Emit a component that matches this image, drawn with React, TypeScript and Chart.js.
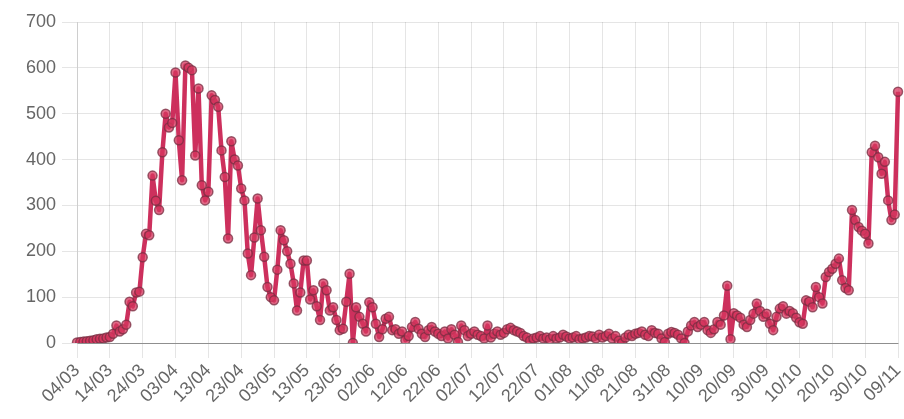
import React, { useEffect, useRef } from "react";
import { Chart, registerables } from "chart.js";

Chart.register(...registerables);

// Daily categories: 04/03 (2020) through 09/11
const START = { year: 2020, month: 3, day: 4 };
const DAY_COUNT = 251;
const dates: string[] = [];
for (let i = 0; i < DAY_COUNT; i++) {
  const d = new Date(Date.UTC(START.year, START.month - 1, START.day + i));
  const dd = String(d.getUTCDate()).padStart(2, "0");
  const mm = String(d.getUTCMonth() + 1).padStart(2, "0");
  dates.push(`${dd}/${mm}`);
}

// Daily values
const values: number[] = [
  1, 2, 3, 4, 5, 6, 8, 9, 10, 12,
  13, 20, 38, 25, 30, 40, 90, 80, 110, 112,
  187, 238, 235, 365, 310, 290, 416, 500, 470, 480,
  590, 442, 355, 605, 600, 595, 409, 555, 344, 311,
  330, 540, 530, 515, 420, 362, 228, 440, 400, 387,
  337, 311, 195, 148, 230, 315, 246, 188, 122, 100,
  93, 160, 246, 224, 200, 173, 130, 71, 110, 180,
  180, 95, 115, 80, 50, 130, 115, 71, 78, 50,
  28, 31, 90, 151, 0, 78, 57, 42, 25, 89,
  78, 42, 13, 30, 53, 57, 28, 30, 20, 25,
  6, 15, 35, 46, 31, 20, 13, 28, 35, 25,
  20, 15, 25, 10, 30, 18, 2, 38, 28, 15,
  20, 25, 18, 15, 10, 38, 12, 20, 25, 18,
  22, 30, 33, 28, 25, 22, 15, 12, 5, 10,
  12, 15, 10, 12, 8, 15, 10, 12, 18, 14,
  10, 12, 15, 8, 10, 12, 15, 14, 10, 18,
  12, 15, 20, 10, 15, 5, 0, 12, 18, 15,
  20, 22, 25, 18, 15, 28, 22, 20, 10, 2,
  20, 24, 22, 18, 10, 0, 25, 38, 46, 35,
  40, 46, 28, 22, 30, 46, 40, 60, 125, 8,
  65, 60, 55, 40, 35, 50, 64, 86, 70, 57,
  64, 42, 28, 57, 75, 80, 64, 70, 65, 55,
  45, 42, 93, 90, 78, 122, 100, 86, 144, 155,
  162, 173, 184, 137, 120, 115, 290, 268, 253, 245,
  238, 217, 416, 430, 405, 369, 395, 311, 268, 280,
  548,
];

const LABEL_EVERY = 10;
const Y_MIN = 0;
const Y_MAX = 700;
const Y_STEP = 100;

const FONT = { family: "Arial, 'Liberation Sans', Helvetica, sans-serif", size: 18 };
const TEXT = "#666";
const GRID = "rgba(0,0,0,0.1)";
const ZERO = "rgba(0,0,0,0.25)";

export default function App() {
  const ref = useRef<HTMLCanvasElement | null>(null);

  useEffect(() => {
    if (!ref.current) return;
    const chart = new Chart(ref.current, {
      type: "line",
      data: {
        labels: dates,
        datasets: [
          {
            data: values,
            borderColor: "rgba(200,25,75,0.9)",
            borderWidth: 4.5,
            borderJoinStyle: "round",
            pointRadius: 4.5,
            pointBorderWidth: 1.5,
            pointBackgroundColor: "rgba(215,55,95,0.75)",
            pointBorderColor: "rgba(120,45,65,0.75)",
            tension: 0,
            fill: false,
          },
        ],
      },
      options: {
        animation: false,
        responsive: true,
        maintainAspectRatio: false,
        layout: { padding: { top: 22, right: 2, left: 0, bottom: 0 } },
        plugins: { legend: { display: false }, tooltip: { enabled: false } },
        scales: {
          x: {
            type: "category",
            offset: false,
            border: { color: ZERO },
            grid: {
              color: (c: any) => (c.index % LABEL_EVERY === 0 ? GRID : "rgba(0,0,0,0)"),
              tickColor: (c: any) => (c.index % LABEL_EVERY === 0 ? GRID : "rgba(0,0,0,0)"),
              tickLength: 15,
            },
            ticks: {
              autoSkip: false,
              minRotation: 45,
              maxRotation: 45,
              padding: 2,
              color: TEXT,
              font: FONT,
              callback: (_v: any, i: number) => (i % LABEL_EVERY === 0 ? dates[i] : ""),
            },
            afterFit: (s: any) => {
              s.paddingLeft = 0;
              s.paddingRight = 0;
              s.height = 76;
            },
          },
          y: {
            min: Y_MIN,
            max: Y_MAX,
            border: { color: GRID },
            grid: {
              color: (c: any) => (c.tick && c.tick.value === 0 ? ZERO : GRID),
              tickColor: GRID,
              tickLength: 15,
            },
            ticks: { stepSize: Y_STEP, padding: 6, color: TEXT, font: FONT },
            afterFit: (s: any) => {
              s.width = 77;
            },
          },
        },
      },
    });
    return () => chart.destroy();
  }, []);

  return (
    <div style={{ position: "fixed", left: 0, top: 0, width: 904, height: 419, background: "#fff" }}>
      <canvas ref={ref} />
    </div>
  );
}
